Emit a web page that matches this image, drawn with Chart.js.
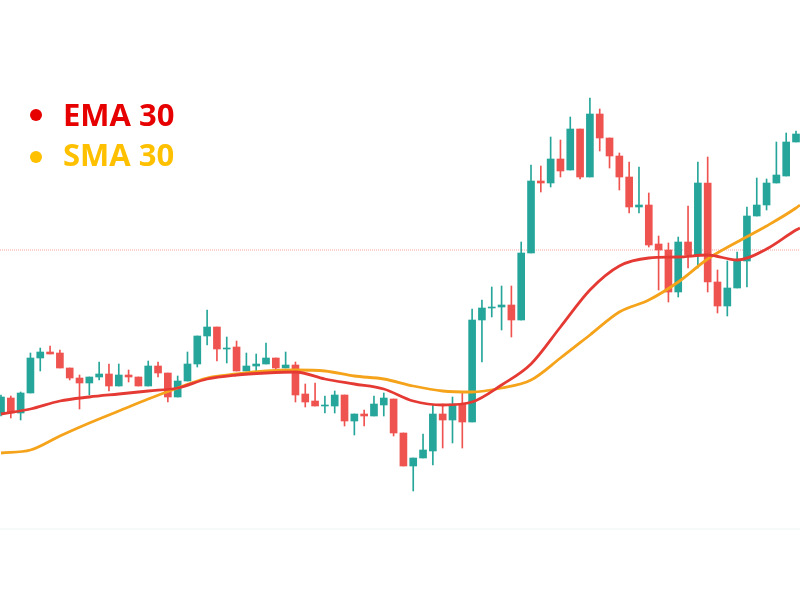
<!DOCTYPE html>
<html>
<head>
<meta charset="utf-8">
<script src="https://cdn.jsdelivr.net/npm/chart.js@4/dist/chart.umd.min.js"></script>
<style>
  html, body { margin: 0; padding: 0; background: #ffffff; }
  #wrap { position: relative; width: 800px; height: 600px; }
  .key { position: absolute; left: 63px; font-family: "Open Sans", sans-serif; font-weight: 700; font-size: 31px; line-height: 31px; white-space: nowrap; }
  .dot { position: absolute; left: 30px; width: 12px; height: 12px; border-radius: 50%; }
</style>
</head>
<body>
<div id="wrap">
  <canvas id="chart"></canvas>
  <div class="dot" style="top:109px;background:#e60000"></div>
  <div class="key" style="top:99px;color:#e60000">EMA 30</div>
  <div class="dot" style="top:151px;background:#ffc000"></div>
  <div class="key" style="top:139px;color:#ffc000">SMA 30</div>
</div>
<script>
// candles, one per bar index 0..81
var candleOpen = [187,202,187,207,242,248,247,232,222,217,
  223,226,214,225,223,214,234,227,203,219,
  236,264,273,251,253,229,234,236,242,232,
  235,206,199,194,194,205,179,186,184,195,
  201,167,134,142,149,186,180,196,178,280,
  292,293,295,280,347,419,417,441,430,471,
  423,486,462,444,423,393,395,356,350,308,
  358,345,417,318,294,312,339,384,395,417,
  424,458];
var candleClose = [203,187,207,242,248,246,232,222,217,223,
  226,214,225,223,214,234,227,203,219,236,
  264,273,251,252,229,234,236,242,232,235,
  205,198,194,195,205,179,186,184,196,202,
  167,134,142,150,186,180,196,178,280,292,
  293,295,280,347,419,417,441,429,471,423,
  486,462,444,423,393,395,355,350,308,358,
  345,417,318,294,312,340,384,395,417,425,
  458,466];
var candleHigh = [205,204,208,247,252,254,250,232,225,223,
  238,236,236,230,223,239,238,227,224,248,
  264,290,273,263,259,247,246,257,242,248,
  238,216,217,204,209,205,186,190,204,207,
  201,167,142,166,195,196,203,208,291,300,
  313,314,314,358,435,434,463,460,483,471,
  502,491,462,447,438,433,407,364,357,363,
  394,438,443,330,339,348,393,422,421,458,
  467,469];
var candleLow = [184,182,180,207,229,246,232,220,191,205,
  220,209,214,218,214,214,223,198,203,219,
  233,255,239,237,229,229,228,236,230,232,
  198,193,194,187,187,174,165,174,184,184,
  164,134,109,142,135,152,157,152,178,238,
  283,270,263,280,347,408,413,423,430,421,
  423,449,432,410,387,387,353,310,298,303,
  332,332,308,287,284,312,313,384,390,417,
  424,458];

// moving averages, read every third bar
var maIndex = [0,3,6,9,12,15,18,21,24,27,30,33,36,39,42,45,48,51,54,57,60,63,66,69,72,75,78,81,81.4];
var ema30 = [186,191,199,203,206,209,212,221,225,227,228,221,216,211,199,195,198,215,236,273,310,334,342,343,345,340,351,370,372];
var sma30 = [147,150,164,177,189,201,212,222,226,229,230,229,224,221,214,209,208,212,220,242,265,288,300,318,341,358,374,392,395];

var refLevel = 350;   // dotted line
var baseLevel = 71;   // faint bottom line

var upColor = '#26a69a';
var downColor = '#ef5350';

var bodies = [];
var wicks = [];
var colors = [];
for (var i = 0; i < candleOpen.length; i++) {
  bodies.push({x: i, y: [candleOpen[i], candleClose[i]]});
  wicks.push({x: i, y: [candleLow[i], candleHigh[i]]});
  colors.push(candleClose[i] >= candleOpen[i] ? upColor : downColor);
}

function toPoints(xs, ys) {
  return xs.map(function (x, k) { return {x: x, y: ys[k]}; });
}

var xMin = -0.102, xMax = 81.406;

new Chart(document.getElementById('chart'), {
  type: 'bar',
  data: {
    datasets: [
      {
        type: 'line',
        data: toPoints(maIndex, ema30),
        borderColor: '#e53a33',
        borderWidth: 2.8,
        pointRadius: 0,
        cubicInterpolationMode: 'monotone',
        order: 0
      },
      {
        type: 'line',
        data: toPoints(maIndex, sma30),
        borderColor: '#f5a31a',
        borderWidth: 2.8,
        pointRadius: 0,
        cubicInterpolationMode: 'monotone',
        order: 0
      },
      {
        data: bodies,
        backgroundColor: colors,
        barThickness: 7,
        grouped: false,
        order: 1
      },
      {
        data: wicks,
        backgroundColor: colors,
        barThickness: 1,
        grouped: false,
        order: 2
      },
      {
        type: 'line',
        data: [{x: xMin, y: refLevel}, {x: xMax, y: refLevel}],
        borderColor: 'rgba(239,83,80,0.55)',
        borderWidth: 1,
        borderDash: [1, 1],
        pointRadius: 0,
        order: 3
      },
      {
        type: 'line',
        data: [{x: xMin, y: baseLevel}, {x: xMax, y: baseLevel}],
        borderColor: '#eef5f4',
        borderWidth: 1,
        pointRadius: 0,
        order: 3
      }
    ]
  },
  options: {
    responsive: true,
    maintainAspectRatio: false,
    animation: false,
    layout: { padding: 0 },
    plugins: {
      legend: { display: false },
      tooltip: { enabled: false }
    },
    scales: {
      x: { type: 'linear', min: xMin, max: xMax, offset: false, display: false },
      y: { min: 0, max: 600, display: false }
    }
  }
});
</script>
</body>
</html>
